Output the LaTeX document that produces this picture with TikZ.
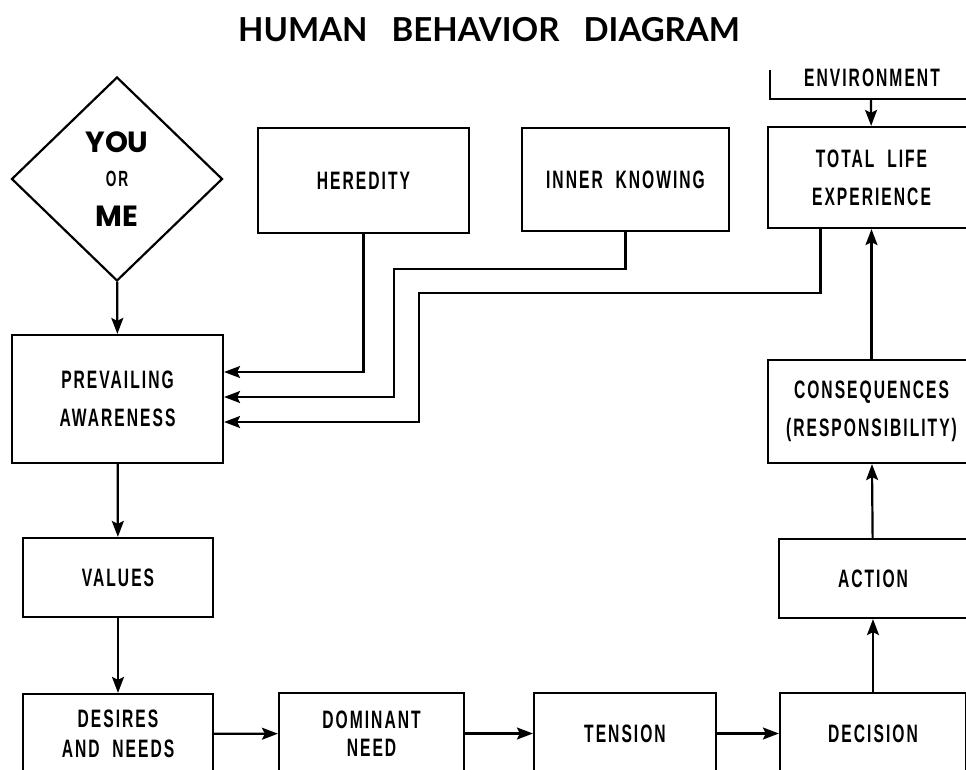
\documentclass[tikz,border=0pt]{standalone}
\usepackage{fontspec}
\usetikzlibrary{arrows.meta, shapes.geometric, positioning}
\newfontfamily\boxfont{Liberation Sans}[FakeStretch=0.62, LetterSpace=8]
\newfontfamily\titlefont{Lato}
\newfontfamily\youfont{Poppins}

\begin{document}
\begin{tikzpicture}[x=0.5pt, y=-0.5pt]
	\tikzstyle{block} = [rectangle, draw=black, line width=1.1pt, inner sep=0pt, 
	align=center, font=\boxfont\bfseries\fontsize{12.6}{19}\selectfont]
	\tikzstyle{decide} = [diamond, draw=black, line width=1.1pt, inner sep=0pt, 
	align=center, font=\boxfont\bfseries\fontsize{11}{16}\selectfont]
	\tikzstyle{arrow} = [line width=1.1pt, -{Stealth[length=8pt, width=6pt, inset=1.5pt]}]
	\useasboundingbox (0,0) rectangle (966,770);
	\clip (0,0) rectangle (966,770);
	\node (title) at (489,30) {\titlefont\bfseries\fontsize{16.5}{20}\selectfont HUMAN\ \ \ BEHAVIOR\ \ \ DIAGRAM};
	\node (you) [decide, minimum width=105.5pt, minimum height=102pt] at (117,179) 
	{{\youfont\bfseries\fontsize{14.6}{16}\selectfont YOU}\\[1pt]OR\\[4pt]{\youfont\bfseries\fontsize{14.6}{16}\selectfont ME}};
	\node (heredity) [block, minimum width=105.5pt, minimum height=52.5pt] at (363.5,180.5) {HEREDITY};
	\node (inner) [block, minimum width=103.5pt, minimum height=51.5pt] at (625.5,179.5) {INNER\ \ KNOWING};
	\node (tle) [block, minimum width=103.5pt, minimum height=50.5pt] at (871.5,177.5) {TOTAL\ \ LIFE\\EXPERIENCE};
	\node (env) [font=\boxfont\bfseries\fontsize{12.6}{19}\selectfont] at (872,78) {ENVIRONMENT};
	\node (pa) [block, minimum width=105.5pt, minimum height=64pt] at (117.5,399) {PREVAILING\\AWARENESS};
	\node (values) [block, minimum width=95pt, minimum height=39.5pt] at (118,577.5) {VALUES};
	\node (desires) [block, minimum width=95pt, minimum height=40pt] at (118,734) {DESIRES\\[-4pt]AND\ \ NEEDS};
	\node (dominant) [block, minimum width=92.5pt, minimum height=40.5pt] at (371.5,733.5) {DOMINANT\\[-5pt]NEED};
	\node (tension) [block, minimum width=91pt, minimum height=40.5pt] at (625,733.5) {TENSION};
	\node (decision) [block, minimum width=93pt, minimum height=40.5pt] at (873,733.5) {DECISION};
	\node (action) [block, minimum width=94pt, minimum height=39.5pt] at (873,578.5) {ACTION};
	\node (cons) [block, minimum width=103.5pt, minimum height=51.5pt] at (871.5,411.5) {CONSEQUENCES\\(RESPONSIBILITY)};
	% environment frame, only its lower part shows
	\draw [line width=1.1pt] (770,70) |- (980,99);
	\coordinate (envFoot) at (871,99);
	\draw [arrow] (envFoot) -- (tle);
	\draw [arrow] (you) -- (pa);
	\draw [arrow] (pa) -- (values);
	\draw [arrow] (values) -- (desires);
	\draw [arrow] (desires) -- (dominant);
	\draw [arrow] (dominant) -- (tension);
	\draw [arrow] (tension) -- (decision);
	\draw [arrow] (decision) -- (action);
	\draw [arrow] (action) -- (cons);
	\draw [arrow] (cons) -- (tle);
	% feeds into prevailing awareness
	\draw [arrow] (heredity.south) |- ([yshift=13.5pt]pa.east);
	\draw [arrow] (inner.south) |- (394,269) |- ([yshift=1pt]pa.east);
	\draw [arrow] ([xshift=-25.5pt]tle.south) |- (419,293) |- ([yshift=-11.5pt]pa.east);
\end{tikzpicture}
\end{document}
